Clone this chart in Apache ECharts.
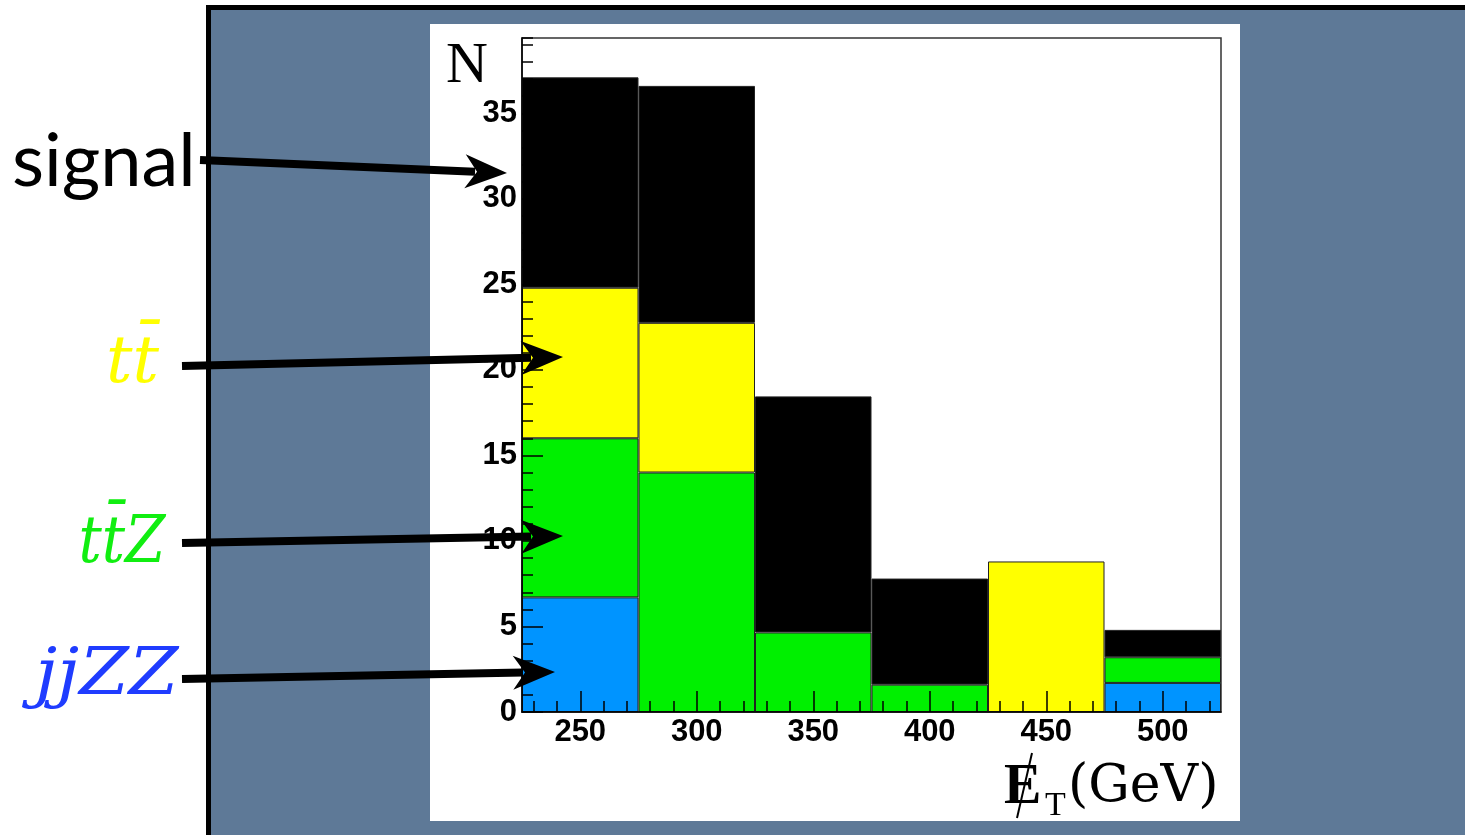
<!DOCTYPE html>
<html>
<head>
<meta charset="utf-8">
<script src="https://cdn.jsdelivr.net/npm/echarts@6/dist/echarts.min.js"></script>
<style>
  html, body { margin: 0; padding: 0; background: #fff; }
  #container { width: 1465px; height: 835px; }
</style>
</head>
<body>
<div id="container"></div>
<script>
// bin centres of the MET histogram (GeV), 50 GeV wide
var bins = ["250", "300", "350", "400", "450", "500"];
// events per bin for each component, stacked bottom -> top
var jjZZ = [6.7, 0, 0, 0, 0, 1.7];
var ttZ = [9.3, 14.0, 4.65, 1.6, 0, 1.5];
var ttbar = [8.8, 8.75, 0, 0, 8.8, 0];
var signal = [12.3, 13.85, 13.8, 6.2, 0, 1.6];
// minor tick positions every 10 GeV (230 ... 520)
var minorBins = [];
for (var v = 230; v <= 520; v += 10) minorBins.push(String(v));

var yMax = 39.4;

var slideBlue = "#5e7997";

function arrow(x1, y1, x2, y2) {
  // shaft + triangular head
  var ang = Math.atan2(y2 - y1, x2 - x1);
  var hl = 36, hw = 17;
  var bx = x2 - hl * Math.cos(ang), by = y2 - hl * Math.sin(ang);
  var nx = -Math.sin(ang), ny = Math.cos(ang);
  return [
    {
      type: "line", z: 100,
      shape: { x1: x1, y1: y1, x2: bx + 4 * Math.cos(ang), y2: by + 4 * Math.sin(ang) },
      style: { stroke: "#000", lineWidth: 8 }
    },
    {
      type: "polygon", z: 100,
      shape: { points: [[x2, y2], [bx + hw * nx - 6 * Math.cos(ang), by + hw * ny - 6 * Math.sin(ang)],
                        [bx + 6 * Math.cos(ang), by + 6 * Math.sin(ang)],
                        [bx - hw * nx - 6 * Math.cos(ang), by - hw * ny - 6 * Math.sin(ang)]] },
      style: { fill: "#000" }
    }
  ];
}

function nz(arr) {
  return arr.map(function (d) { return d === 0 ? "-" : d; });
}

var barStyle = function (c) {
  return { color: c, borderColor: "#222", borderWidth: 1 };
};

var labelFont = { fontFamily: "Liberation Sans", fontWeight: "bold", fontSize: 31, color: "#000" };

var graphics = [
  // slide background, white margins and black frame
  { type: "rect", z: -20, shape: { x: 0, y: 0, width: 1465, height: 835 }, style: { fill: "#fff" } },
  { type: "rect", z: -19, shape: { x: 211, y: 10, width: 1254, height: 825 }, style: { fill: slideBlue } },
  { type: "rect", z: -18, shape: { x: 206, y: 5, width: 5, height: 830 }, style: { fill: "#000" } },
  { type: "rect", z: -18, shape: { x: 206, y: 5, width: 1259, height: 5 }, style: { fill: "#000" } },
  // white ROOT canvas
  { type: "rect", z: -17, shape: { x: 430, y: 24, width: 810, height: 797 }, style: { fill: "#fff" } },
  // y-axis title
  { type: "text", z: 50, x: 446, y: 96,
    style: { text: "N", font: "58px 'Liberation Serif'", fill: "#000", textVerticalAlign: "bottom" } },
  // x-axis title: missing E_T (GeV)
  { type: "text", z: 50, x: 1004, y: 817,
    style: { text: "E", font: "bold 56px 'Liberation Serif'", fill: "#000", textVerticalAlign: "bottom" } },
  { type: "line", z: 51, shape: { x1: 1032, y1: 753, x2: 1017, y2: 818 }, style: { stroke: "#000", lineWidth: 2 } },
  { type: "text", z: 50, x: 1045, y: 823,
    style: { text: "T", font: "34px 'Liberation Serif'", fill: "#000", textVerticalAlign: "bottom" } },
  { type: "text", z: 50, x: 1068, y: 813,
    style: { text: "(GeV)", font: "52px 'DejaVu Serif'", fill: "#000", textVerticalAlign: "bottom" } },
  // legend-like labels on the slide
  { type: "text", z: 50, x: 12, y: 199,
    style: { text: "signal", font: "74px Lato", fill: "#000", textVerticalAlign: "bottom" } },
  { type: "text", z: 50, x: 106, y: 398,
    style: { text: "tt\u0304", font: "italic 66px 'DejaVu Serif'", fill: "#ffff00", textVerticalAlign: "bottom" } },
  { type: "text", z: 50, x: 70, y: 578, scaleX: 0.88, originX: 70, originY: 578,
    style: { text: "tt\u0304Z", font: "italic 66px 'DejaVu Serif'", fill: "#11ee11", textVerticalAlign: "bottom" } },
  { type: "text", z: 50, x: 38, y: 710, scaleX: 1.08, originX: 38, originY: 710,
    style: { text: "jjZZ", font: "italic 66px 'DejaVu Serif'", fill: "#1f3cff", textVerticalAlign: "bottom" } }
]
  .concat(arrow(200, 160, 507, 173))
  .concat(arrow(182, 366, 563, 357))
  .concat(arrow(182, 543, 563, 536))
  .concat(arrow(182, 679, 555, 672));

var option = {
  animation: false,
  backgroundColor: "#fff",
  graphic: graphics,
  grid: {
    left: 522, right: 244, top: 38, bottom: 123,
    show: true, backgroundColor: "#fff", borderColor: "#333", borderWidth: 1.5
  },
  xAxis: [
    {
      type: "category", data: bins, boundaryGap: true, z: 10,
      axisLine: { lineStyle: { color: "#000", width: 1.5 } },
      axisTick: { show: true, inside: true, alignWithLabel: true, length: 21, lineStyle: { color: "#000", width: 1.5 } },
      axisLabel: Object.assign({ margin: 5 }, labelFont),
      splitLine: { show: false }
    },
    {
      type: "category", data: minorBins, boundaryGap: true, position: "bottom", z: 10,
      axisLine: { show: false },
      axisTick: { show: true, inside: true, alignWithLabel: true, interval: 0, length: 11, lineStyle: { color: "#000", width: 1.5 } },
      axisLabel: { show: false },
      splitLine: { show: false }
    }
  ],
  yAxis: [
    {
      type: "value", min: 0, max: yMax, interval: 5, z: 10,
      axisLine: { show: true, lineStyle: { color: "#000", width: 1.5 } },
      axisTick: { show: true, inside: true, length: 21, lineStyle: { color: "#000", width: 1.5 } },
      axisLabel: Object.assign({
        margin: 5, showMaxLabel: false, padding: [6, 0, 0, 0],
        formatter: function (v) { return v % 5 === 0 ? String(v) : ""; }
      }, labelFont),
      splitLine: { show: false }
    },
    {
      type: "value", min: 0, max: yMax, interval: 1, position: "left", z: 10,
      axisLine: { show: false },
      axisTick: { show: true, inside: true, length: 11, lineStyle: { color: "#000", width: 1.5 } },
      axisLabel: { show: false },
      splitLine: { show: false }
    }
  ],
  series: [
    { name: "jjZZ", type: "bar", stack: "bg", data: nz(jjZZ), barWidth: "100%", barCategoryGap: "0%", itemStyle: barStyle("#0094ff") },
    { name: "ttZ", type: "bar", stack: "bg", data: nz(ttZ), barWidth: "100%", barCategoryGap: "0%", itemStyle: barStyle("#00f000") },
    { name: "tt", type: "bar", stack: "bg", data: nz(ttbar), barWidth: "100%", barCategoryGap: "0%", itemStyle: barStyle("#ffff00") },
    { name: "signal", type: "bar", stack: "bg", data: nz(signal), barWidth: "100%", barCategoryGap: "0%", itemStyle: barStyle("#000000") }
  ]
};

var dom = document.getElementById("container");
var myChart = echarts.init(dom, null, { renderer: "canvas" });
myChart.setOption(option, true);
</script>
</body>
</html>
